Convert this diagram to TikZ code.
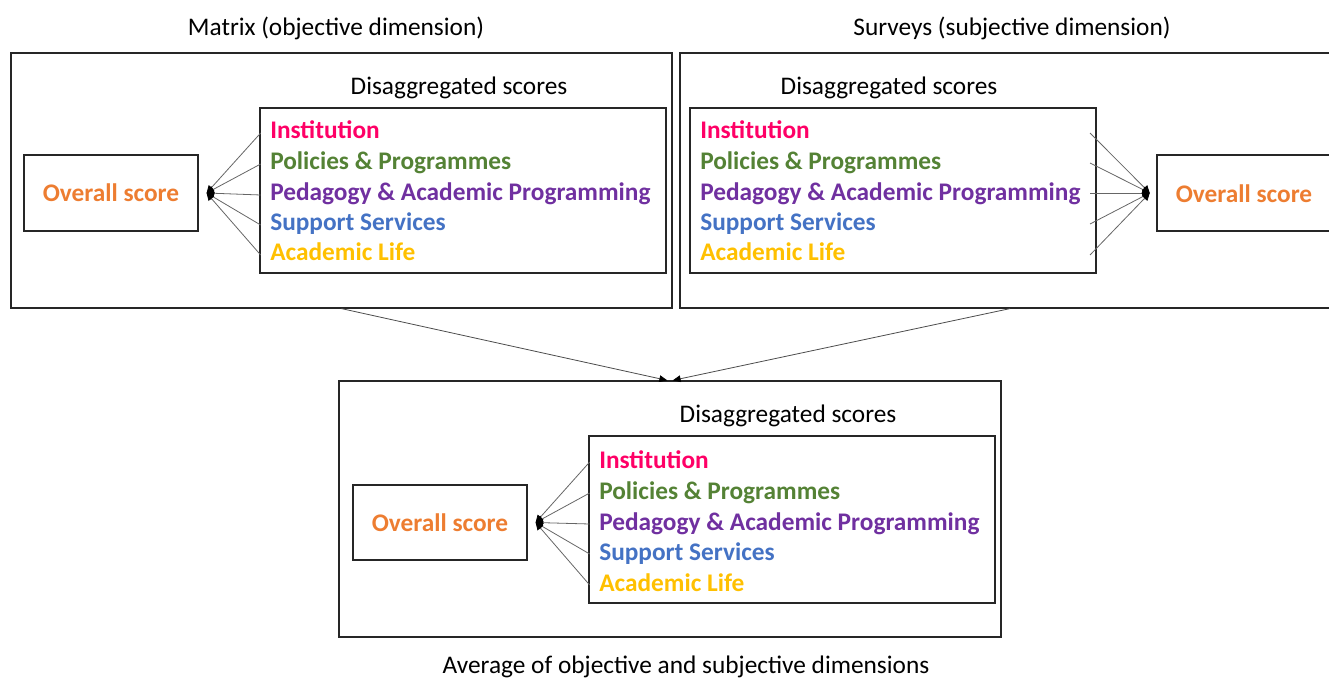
\documentclass[tikz,border=0pt]{standalone}
\usepackage{fontspec}
\setmainfont{Carlito}
\usetikzlibrary{fit,arrows.meta,calc}
\definecolor{cinst}{HTML}{FF0066}
\definecolor{cpol}{HTML}{548235}
\definecolor{cped}{HTML}{7030A0}
\definecolor{csup}{HTML}{4472C4}
\definecolor{cacad}{HTML}{FFC000}
\definecolor{cover}{HTML}{ED7D31}
\begin{document}
\begin{tikzpicture}[x=0.75pt,y=-0.75pt,
  box/.style={draw=black!85,line width=0.9pt,inner sep=0pt},
  lbl/.style={inner sep=0pt,font=\fontsize{19}{22}\selectfont,text=black},
  item/.style={inner sep=0pt,anchor=west,text height=13pt,text depth=4pt,font=\fontsize{19}{22}\selectfont\bfseries},
  ovtext/.style={inner sep=0pt,font=\fontsize{19}{22}\selectfont\bfseries,text=cover},
  conn/.style={draw=black!60,line width=0.6pt,-{Triangle[length=5.5pt,width=5.5pt,black]}},
  flow/.style={draw=black!70,line width=0.6pt,-{Triangle[length=6pt,width=5pt,black]}}]
\useasboundingbox (0,0) rectangle (1329,681);
\clip (0,0) rectangle (1329,681);

% titles
\node[lbl] (tL) at (336,28) {Matrix (objective dimension)};
\node[lbl] (tR) at (1012,28) {Surveys (subjective dimension)};
\node[lbl] (tB) at (686,667) {Average of objective and subjective dimensions};

% ---------- left panel ----------
\node[box,fit={(11,53) (672,308)}] (L) {};
\node[box,fit={(260,108) (666,273)}] (Li) {};
\node[lbl] (Ld) at (459,88) {Disaggregated scores};
\node[box,fit={(24,155) (198,231)}] (Lo) {};
\node[ovtext] at (Lo.center) {Overall score};
\node[item,text=cinst] (L1) at (270,133) {Institution};
\node[item,text=cpol]  (L2) at (270,164) {Policies \& Programmes};
\node[item,text=cped]  (L3) at (270,195) {Pedagogy \& Academic Programming};
\node[item,text=csup]  (L4) at (270,225) {Support Services};
\node[item,text=cacad] (L5) at (270,255) {Academic Life};
\foreach \i in {1,...,5}{
  \draw[conn] ([xshift=-7]L\i.west) -- ([xshift=6]Lo.east);
}

% ---------- right panel ----------
\node[box,fit={(680,53) (1340,308)}] (R) {};
\node[box,fit={(690,108) (1096,273)}] (Ri) {};
\node[lbl] (Rd) at (889,88) {Disaggregated scores};
\node[box,fit={(1157,155) (1345,231)}] (Ro) {};
\node[ovtext] at (1244,194) {Overall score};
\node[item,text=cinst] (R1) at (700,133) {Institution};
\node[item,text=cpol]  (R2) at (700,164) {Policies \& Programmes};
\node[item,text=cped]  (R3) at (700,195) {Pedagogy \& Academic Programming};
\node[item,text=csup]  (R4) at (700,225) {Support Services};
\node[item,text=cacad] (R5) at (700,255) {Academic Life};
\coordinate (r1) at (1090,133);
\coordinate (r2) at (1090,163);
\coordinate (r3) at (1090,193);
\coordinate (r4) at (1090,224);
\coordinate (r5) at (1090,255);
\foreach \i in {1,...,5}{
  \draw[conn] (r\i) -- ([xshift=-5]Ro.west);
}

% ---------- bottom panel ----------
\node[box,fit={(339,381) (1001,637)}] (B) {};
\node[box,fit={(589,436) (995,603)}] (Bi) {};
\node[lbl] (Bd) at (788,416) {Disaggregated scores};
\node[box,fit={(353,485) (527,560)}] (Bo) {};
\node[ovtext] at (Bo.center) {Overall score};
\node[item,text=cinst] (B1) at (599,462) {Institution};
\node[item,text=cpol]  (B2) at (599,493) {Policies \& Programmes};
\node[item,text=cped]  (B3) at (599,524) {Pedagogy \& Academic Programming};
\node[item,text=csup]  (B4) at (599,554) {Support Services};
\node[item,text=cacad] (B5) at (599,585) {Academic Life};
\foreach \i in {1,...,5}{
  \draw[conn] ([xshift=-7]B\i.west) -- ([xshift=6]Bo.east);
}

% flows between panels
\draw[flow] (L.south) -- ([xshift=-2]B.north);
\draw[flow] (R.south) -- ([xshift=2]B.north);
\end{tikzpicture}
\end{document}
